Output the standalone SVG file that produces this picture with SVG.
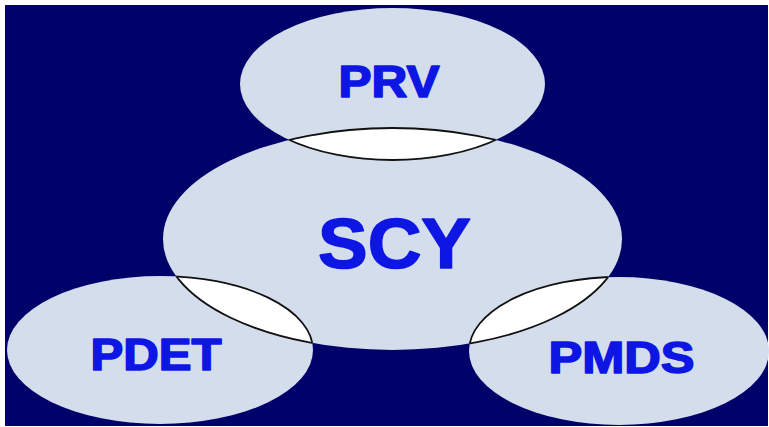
<svg xmlns="http://www.w3.org/2000/svg" width="769" height="427" viewBox="0 0 769 427">
<style>
.set{fill:#D3DDEC}
.lens{fill:#FFFFFF}
.edge{fill:none;stroke:#111111;stroke-width:1.8}
.lbl{font-family:"Liberation Sans",Arial,sans-serif;font-weight:bold;fill:#0E16E4;stroke:#0E16E4;stroke-width:1.6;stroke-linejoin:round;text-anchor:middle}
</style>
<defs>
<ellipse id="ePRV" cx="392.5" cy="84" rx="152.5" ry="76"/>
<ellipse id="eSCY" cx="392.5" cy="239" rx="229.5" ry="111"/>
<ellipse id="ePDET" cx="160" cy="350" rx="153" ry="74"/>
<ellipse id="ePMDS" cx="619" cy="351" rx="150" ry="74"/>
<clipPath id="cPRV"><use href="#ePRV"/></clipPath>
<clipPath id="cSCY"><use href="#eSCY"/></clipPath>
<clipPath id="cPDET"><use href="#ePDET"/></clipPath>
<clipPath id="cPMDS"><use href="#ePMDS"/></clipPath>
</defs>
<rect x="0" y="0" width="769" height="427" fill="#FFFFFF"/>
<rect x="5" y="5" width="763" height="421" fill="#01016A"/>
<g id="node-PRV">
<use href="#ePRV" class="set"/>
<text class="lbl" x="389" y="96.5" font-size="44" textLength="101" lengthAdjust="spacingAndGlyphs">PRV</text>
</g>
<g id="node-SCY">
<use href="#eSCY" class="set"/>
<text class="lbl" x="394.5" y="267.5" font-size="70" textLength="153" lengthAdjust="spacingAndGlyphs">SCY</text>
</g>
<g id="node-PDET">
<use href="#ePDET" class="set"/>
<text class="lbl" x="156" y="369.5" font-size="44" textLength="131" lengthAdjust="spacingAndGlyphs">PDET</text>
</g>
<g id="node-PMDS">
<use href="#ePMDS" class="set"/>
<text class="lbl" x="621.5" y="372.5" font-size="44" textLength="146" lengthAdjust="spacingAndGlyphs">PMDS</text>
</g>
<g id="overlaps">
<use href="#ePRV" class="lens" clip-path="url(#cSCY)"/>
<use href="#ePRV" class="edge" clip-path="url(#cSCY)"/>
<use href="#eSCY" class="edge" clip-path="url(#cPRV)"/>
<use href="#ePDET" class="lens" clip-path="url(#cSCY)"/>
<use href="#ePDET" class="edge" clip-path="url(#cSCY)"/>
<use href="#eSCY" class="edge" clip-path="url(#cPDET)"/>
<use href="#ePMDS" class="lens" clip-path="url(#cSCY)"/>
<use href="#ePMDS" class="edge" clip-path="url(#cSCY)"/>
<use href="#eSCY" class="edge" clip-path="url(#cPMDS)"/>
</g>
</svg>
